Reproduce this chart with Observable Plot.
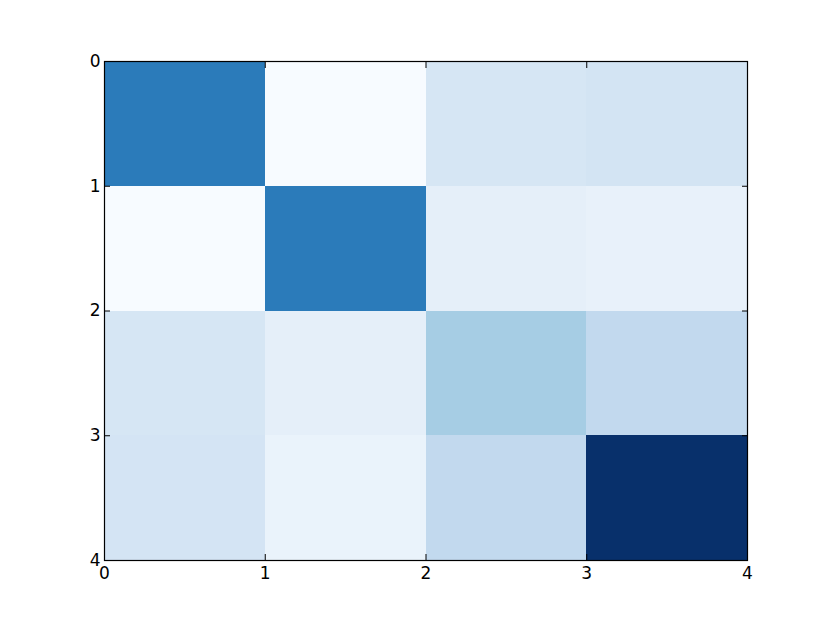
<!DOCTYPE html>
<html>
<head>
<meta charset="utf-8">
<script src="https://cdn.jsdelivr.net/npm/d3@7"></script>
<script src="https://cdn.jsdelivr.net/npm/@observablehq/plot@0.6"></script>
<style>
  html, body { margin: 0; padding: 0; background: #fff; }
  svg { display: block; }
</style>
</head>
<body>
<div id="chart"></div>
<script>
const rowIndex = [0, 1, 2, 3];
const colIndex = [0, 1, 2, 3];
const values = [
  [0.712, 0.000, 0.167, 0.180],
  [0.000, 0.712, 0.090, 0.075],
  [0.167, 0.090, 0.350, 0.262],
  [0.177, 0.065, 0.262, 1.000]
];
const tickValues = [0, 1, 2, 3, 4];
const bluesStops = [0, 0.125, 0.25, 0.375, 0.5, 0.625, 0.75, 0.875, 1];
const bluesColors = ["#f7fbff","#deebf7","#c6dbef","#9ecae1","#6baed6","#4292c6","#2171b5","#08519c","#08306b"];

const cells = [];
rowIndex.forEach(r => colIndex.forEach(c => cells.push({r, c, v: values[r][c]})));

const fmt = d => String(d);

const chart = Plot.plot({
  width: 830,
  height: 623,
  marginLeft: 104,
  marginRight: 83,
  marginTop: 61,
  marginBottom: 63,
  style: {fontFamily: "DejaVu Sans", fontSize: "17px", color: "black", background: "white"},
  x: {domain: [0, 4], ticks: tickValues, label: null},
  y: {domain: [0, 4], reverse: true, ticks: tickValues, label: null},
  color: {type: "linear", domain: bluesStops, range: bluesColors, interpolate: "rgb"},
  marks: [
    Plot.rect(cells, {x1: "c", x2: d => d.c + 1, y1: "r", y2: d => d.r + 1, fill: "v", shapeRendering: "crispEdges"}),
    Plot.axisX({anchor: "bottom", ticks: tickValues, tickFormat: fmt, tickSize: -6, tickPadding: 12, stroke: "black", fill: "black", label: null}),
    Plot.axisX({anchor: "top", ticks: tickValues, tickSize: -6, tickFormat: () => "", stroke: "black", label: null}),
    Plot.axisY({anchor: "left", ticks: tickValues, tickFormat: fmt, tickSize: -6, tickPadding: 10, stroke: "black", fill: "black", label: null}),
    Plot.axisY({anchor: "right", ticks: tickValues, tickSize: -6, tickFormat: () => "", stroke: "black", label: null}),
    Plot.frame({stroke: "black", strokeWidth: 1.2})
  ]
});
document.getElementById("chart").appendChild(chart);
</script>
</body>
</html>
